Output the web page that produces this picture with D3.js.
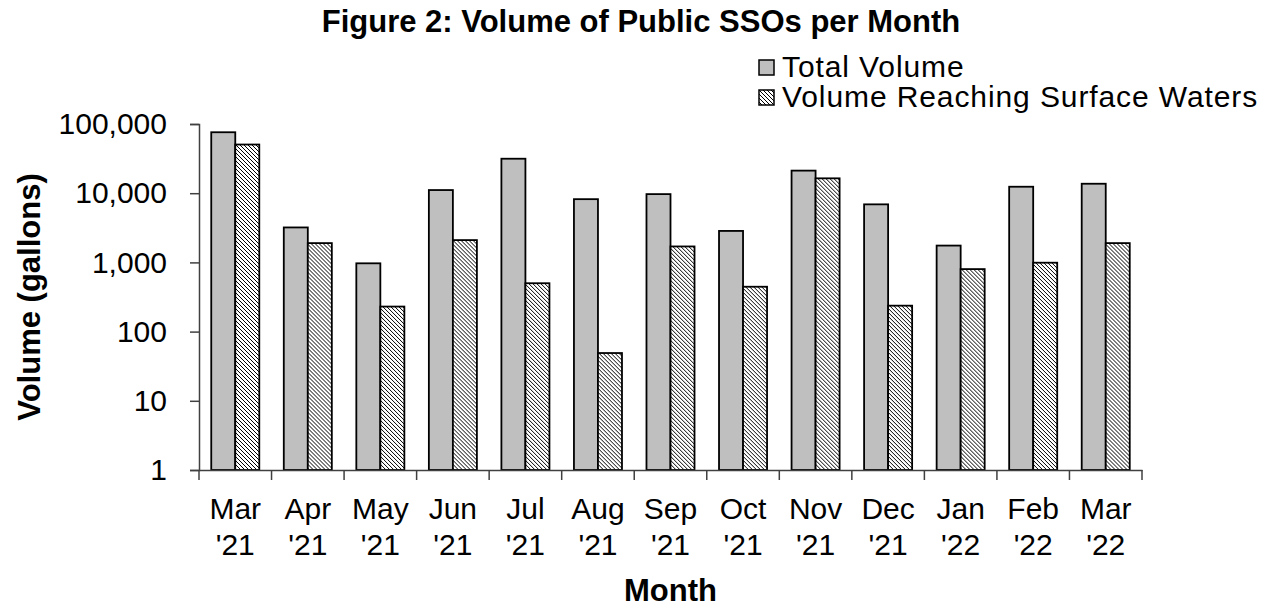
<!DOCTYPE html>
<html>
<head>
<meta charset="utf-8">
<script src="https://cdn.jsdelivr.net/npm/d3@7"></script>
<style>
  html, body { margin: 0; padding: 0; background: #fff; }
  svg { display: block; }
  text { font-family: "Liberation Sans", Arial, sans-serif; fill: #000; }
</style>
</head>
<body>
<svg id="chart" width="1267" height="610"></svg>
<script>
const months = ["Mar", "Apr", "May", "Jun", "Jul", "Aug", "Sep", "Oct", "Nov", "Dec", "Jan", "Feb", "Mar"];
const years  = ["'21", "'21", "'21", "'21", "'21", "'21", "'21", "'21", "'21", "'21", "'22", "'22", "'22"];
const seriesNames = ["Total Volume", "Volume Reaching Surface Waters"];
const totalVolume   = [76000, 3200, 970, 11100, 31500, 8200, 9700, 2850, 21200, 6900, 1750, 12400, 13700];
const surfaceVolume = [50500, 1900, 230, 2100, 500, 49, 1700, 445, 16400, 237, 800, 990, 1900];
const yTicks = [1, 10, 100, 1000, 10000, 100000];

const svg = d3.select("#chart");
const defs = svg.append("defs");
const pat = defs.append("pattern")
  .attr("id", "hatch").attr("patternUnits", "userSpaceOnUse")
  .attr("width", 4).attr("height", 4);
pat.append("rect").attr("width", 4).attr("height", 4).attr("fill", "#fff");
pat.append("path")
  .attr("d", "M0,0 L4,4 M-1,3 L1,5 M3,-1 L5,1")
  .attr("stroke", "#000").attr("stroke-width", 1.0);

const cats = months.map((m, i) => i);
const plotLeft = 199, plotRight = 1142, plotTop = 124, plotBottom = 470;

const x = d3.scaleBand().domain(cats).range([plotLeft, plotRight]).paddingInner(0).paddingOuter(0);
const x1 = d3.scaleBand().domain([0, 1]).range([0, x.bandwidth()]).paddingInner(0).paddingOuter(0.51);
const y = d3.scaleLog().domain([1, 100000]).range([plotBottom, plotTop]);

const fills = ["#bfbfbf", "url(#hatch)"];
const data = cats.map(i => [totalVolume[i], surfaceVolume[i]]);

// bars
const groups = svg.append("g").selectAll("g").data(cats).join("g")
  .attr("transform", d => `translate(${x(d)},0)`);
groups.selectAll("rect").data(d => data[d].map((v, s) => ({ v, s }))).join("rect")
  .attr("x", d => x1(d.s))
  .attr("width", x1.bandwidth())
  .attr("y", d => y(d.v))
  .attr("height", d => y(1) - y(d.v))
  .attr("fill", d => fills[d.s])
  .attr("stroke", "#000")
  .attr("stroke-width", 1.8);

// y axis
const yAxis = svg.append("g").attr("transform", `translate(${plotLeft},0)`)
  .call(d3.axisLeft(y).tickValues(yTicks).tickFormat(d3.format(",")).tickSize(9).tickPadding(23));
yAxis.select(".domain").attr("stroke", "#404040").attr("stroke-width", 1.5);
yAxis.selectAll(".tick line").attr("stroke", "#404040").attr("stroke-width", 1.5);
yAxis.selectAll(".tick text").style("font-size", "30px").style("font-family", "'Liberation Sans', Arial, sans-serif").attr("fill", "#000");

// x axis baseline and boundary ticks
const xAxis = svg.append("g").attr("transform", `translate(0,${plotBottom})`)
  .call(d3.axisBottom(x).tickSize(0).tickFormat(() => ""));
xAxis.select(".domain").attr("stroke", "#404040").attr("stroke-width", 1.5);
const bounds = cats.map(c => x(c)).concat([x(cats[cats.length - 1]) + x.step()]);
svg.append("g").selectAll("line").data(bounds).join("line")
  .attr("x1", d => d).attr("x2", d => d)
  .attr("y1", plotBottom).attr("y2", plotBottom + 10)
  .attr("stroke", "#404040").attr("stroke-width", 1.5);

// x labels (two lines)
const lab = svg.append("g").selectAll("text").data(cats).join("text")
  .attr("x", d => x(d) + x.bandwidth() / 2)
  .attr("text-anchor", "middle")
  .style("font-size", "30px");
lab.append("tspan").attr("x", d => x(d) + x.bandwidth() / 2).attr("y", plotBottom + 49).text(d => months[d]);
lab.append("tspan").attr("x", d => x(d) + x.bandwidth() / 2).attr("y", plotBottom + 85).text(d => years[d]);

// title
svg.append("text").attr("x", 641).attr("y", 32).attr("text-anchor", "middle")
  .style("font-size", "31px").style("font-weight", "bold")
  .text("Figure 2: Volume of Public SSOs per Month");

// axis titles
svg.append("text").attr("x", (plotLeft + plotRight) / 2).attr("y", 601).attr("text-anchor", "middle")
  .style("font-size", "31px").style("font-weight", "bold").text("Month");
svg.append("text").attr("transform", `translate(40,${(plotTop + plotBottom) / 2}) rotate(-90)`)
  .attr("text-anchor", "middle")
  .style("font-size", "31px").style("font-weight", "bold").text("Volume (gallons)");

// legend
const leg = svg.append("g").selectAll("g").data(seriesNames).join("g")
  .attr("transform", (d, i) => `translate(759,${60 + i * 30})`);
leg.append("rect").attr("width", 15).attr("height", 15)
  .attr("fill", (d, i) => fills[i]).attr("stroke", "#000").attr("stroke-width", 1.5);
leg.append("text").attr("x", 23).attr("y", 17).style("font-size", "30px")
  .style("letter-spacing", "0.9px").text(d => d);
</script>
</body>
</html>
